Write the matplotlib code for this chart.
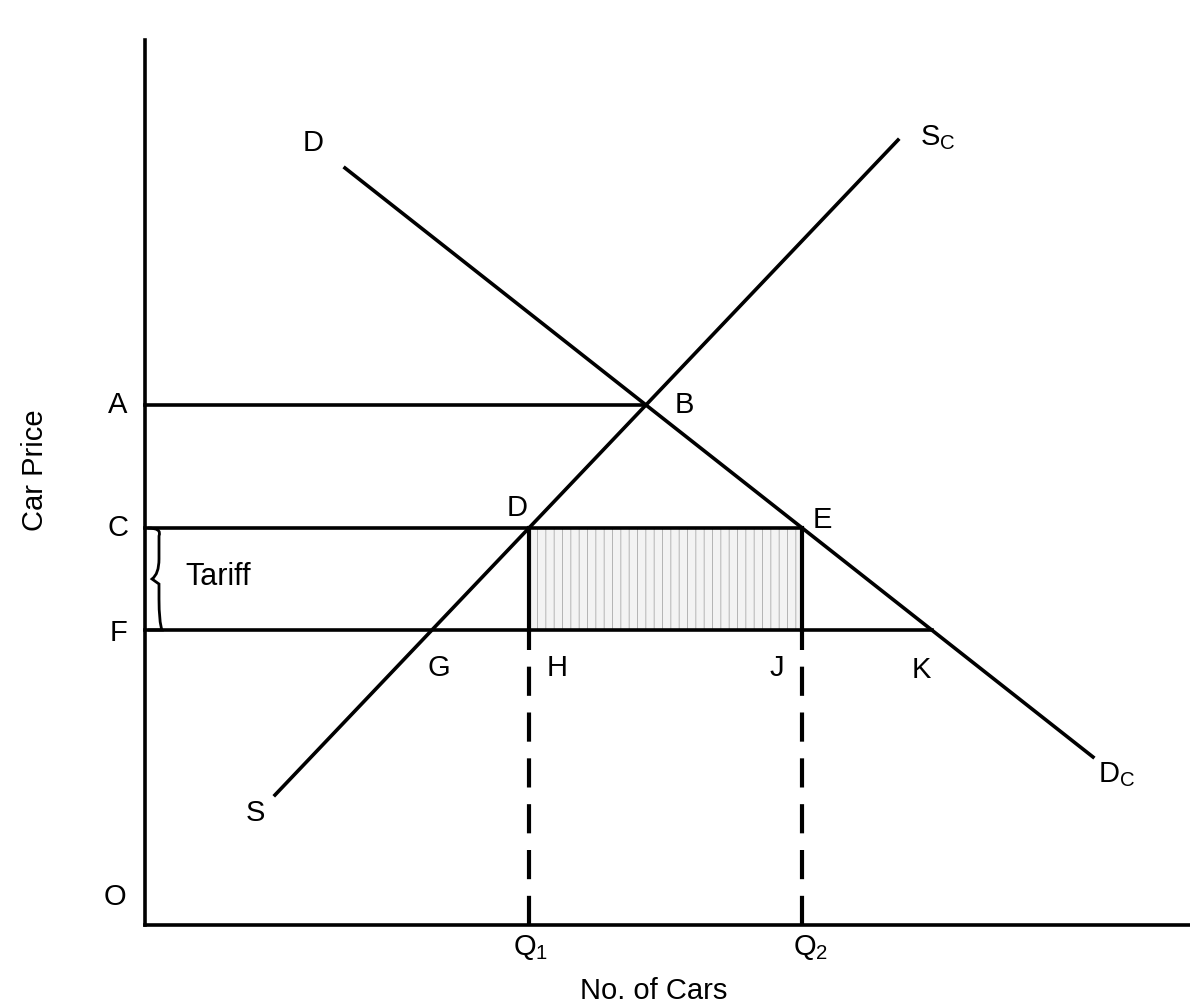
import numpy as np
import matplotlib.pyplot as plt
from matplotlib.path import Path
from matplotlib.patches import PathPatch, Rectangle

plt.rcParams['font.family'] = ['Liberation Sans', 'DejaVu Sans']
plt.rcParams['hatch.linewidth'] = 0.6

# curve end points (quantity, price)
supply_q = [130, 753]
supply_p = [130, 785]
demand_q = [200, 948]
demand_p = [757, 168]

# price levels
world_price = 295      # F
tariff = 102           # C - F
x_max = 1045
y_max = 885


def line_price(qs, ps, q):
    return ps[0] + (ps[1] - ps[0]) * (q - qs[0]) / (qs[1] - qs[0])


def line_qty(qs, ps, p):
    return qs[0] + (qs[1] - qs[0]) * (p - ps[0]) / (ps[1] - ps[0])


# equilibrium B
s_slope = (supply_p[1] - supply_p[0]) / (supply_q[1] - supply_q[0])
d_slope = (demand_p[1] - demand_p[0]) / (demand_q[1] - demand_q[0])
q_b = (demand_p[0] - supply_p[0] + s_slope * supply_q[0] - d_slope * demand_q[0]) / (s_slope - d_slope)
p_b = line_price(supply_q, supply_p, q_b)

p_c = world_price + tariff
q1 = line_qty(supply_q, supply_p, p_c)
q2 = line_qty(demand_q, demand_p, p_c)
q_g = line_qty(supply_q, supply_p, world_price)
q_k = line_qty(demand_q, demand_p, world_price)

fig = plt.figure(figsize=(11.9, 10.08), dpi=100)
ax = fig.add_axes([0, 0, 1, 1])
ax.set_xlim(-145, 1045)
ax.set_ylim(-83, 925)
ax.axis('off')

lw = 2.6
k = 'black'

# axes
ax.plot([0, 0], [0, y_max], color=k, lw=lw)
ax.plot([0, x_max], [0, 0], color=k, lw=lw)

# shaded rectangle
ax.add_patch(Rectangle((q1, world_price), q2 - q1, tariff, facecolor='#f3f3f3',
                       edgecolor='#aaaaaa', hatch='||', lw=0, zorder=1))

# supply and demand
ax.plot(supply_q, supply_p, color=k, lw=lw, zorder=3)
ax.plot(demand_q, demand_p, color=k, lw=lw, zorder=3)

# price lines
ax.plot([0, q_b], [p_b, p_b], color=k, lw=lw)
ax.plot([0, q2], [p_c, p_c], color=k, lw=lw)
ax.plot([0, q_k], [world_price, world_price], color=k, lw=lw)

# verticals
for q in (q1, q2):
    ax.plot([q, q], [world_price, p_c], color=k, lw=lw + 0.4)
    ax.plot([q, q], [0, world_price], color=k, lw=lw + 0.4, dashes=(7, 4))

# brace for tariff
bx = 17
ym = (world_price + p_c) / 2
verts = [(3, p_c), (bx, p_c), (bx - 3, p_c - 8), (bx - 3, ym + 20),
         (bx - 3, ym + 5), (bx - 10, ym), (bx - 10, ym),
         (bx - 10, ym), (bx - 3, ym - 5), (bx - 3, ym - 20),
         (bx - 3, world_price + 8), (bx, world_price), (3, world_price)]
codes = [Path.MOVETO, Path.CURVE3, Path.CURVE3, Path.LINETO,
         Path.CURVE3, Path.CURVE3, Path.LINETO,
         Path.CURVE3, Path.CURVE3, Path.LINETO,
         Path.CURVE3, Path.CURVE3, Path.LINETO]
ax.add_patch(PathPatch(Path(verts, codes), fill=False, lw=2.0, color=k))

fs = 21
ax.text(40, ym + 2, 'Tariff', fontsize=22, va='center')

# labels
ax.text(-27, p_b, 'A', fontsize=fs, ha='center', va='center')
ax.text(-27, p_c, 'C', fontsize=fs, ha='center', va='center')
ax.text(-27, world_price - 3, 'F', fontsize=fs, ha='center', va='center')
ax.text(-30, 28, 'O', fontsize=fs, ha='center', va='center')
ax.text(q_b + 38, p_b, 'B', fontsize=fs, ha='center', va='center')
ax.text(q1 - 12, p_c + 20, 'D', fontsize=fs, ha='center', va='center')
ax.text(q2 + 20, p_c + 8, 'E', fontsize=fs, ha='center', va='center')
ax.text(q_g + 7, world_price - 38, 'G', fontsize=fs, ha='center', va='center')
ax.text(q1 + 28, world_price - 38, 'H', fontsize=fs, ha='center', va='center')
ax.text(q2 - 25, world_price - 38, 'J', fontsize=fs, ha='center', va='center')
ax.text(q_k - 10, world_price - 40, 'K', fontsize=fs, ha='center', va='center')
ax.text(supply_q[0] - 20, supply_p[0] - 18, 'S', fontsize=fs, ha='center', va='center')
ax.text(supply_q[1] + 40, supply_p[1] + 2, r'S$_{\mathregular{C}}$', fontsize=fs, ha='center', va='center')
ax.text(demand_q[0] - 32, demand_p[0] + 25, 'D', fontsize=fs, ha='center', va='center')
ax.text(demand_q[1] + 24, demand_p[1] - 18, r'D$_{\mathregular{C}}$', fontsize=fs, ha='center', va='center')
ax.text(q1 + 2, -22, r'Q$_{\mathregular{1}}$', fontsize=fs, ha='center', va='center')
ax.text(q2 + 8, -22, r'Q$_{\mathregular{2}}$', fontsize=fs, ha='center', va='center')

ax.text(509, -66, 'No. of Cars', fontsize=21, ha='center', va='center')
ax.text(-110, 455, 'Car Price', fontsize=21, ha='center', va='center', rotation=90)

fig.savefig('out.png', dpi=100)
